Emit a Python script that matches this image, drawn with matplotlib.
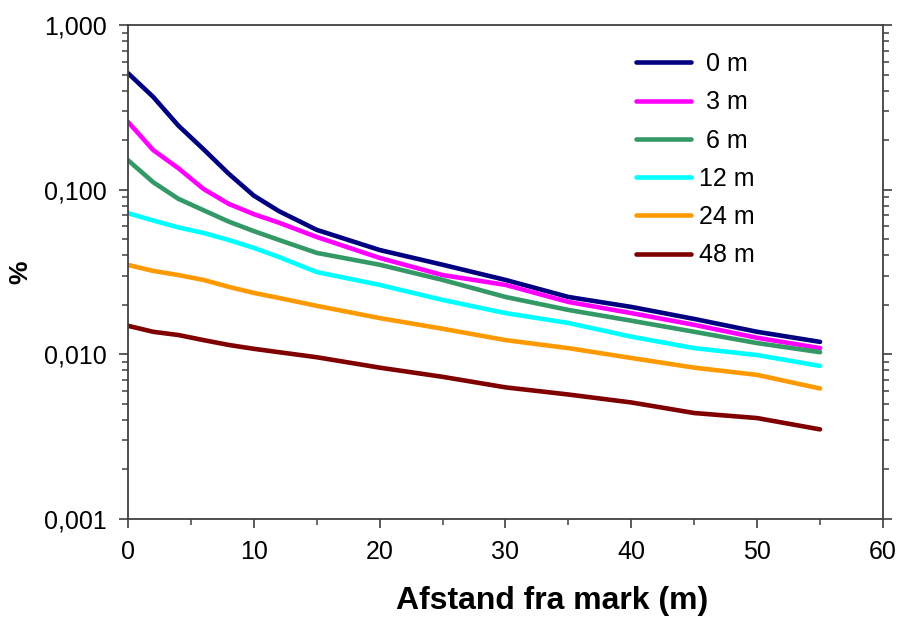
import matplotlib
matplotlib.use('Agg')
import matplotlib.pyplot as plt
from matplotlib.ticker import MultipleLocator, FuncFormatter, LogLocator, NullFormatter

plt.rcParams['font.family'] = ['Liberation Sans', 'DejaVu Sans']

# data ------------------------------------------
afstand = [0, 2, 4, 6, 8, 10, 12, 15, 20, 25, 30, 35, 40, 45, 50, 55]
h0 = [0.51, 0.366, 0.245, 0.176, 0.125, 0.092, 0.074, 0.057, 0.043, 0.035, 0.0283, 0.0223, 0.0194, 0.0164, 0.0137, 0.0119]
h3 = [0.258, 0.174, 0.135, 0.101, 0.082, 0.071, 0.063, 0.0516, 0.0385, 0.0303, 0.0264, 0.0208, 0.0178, 0.0151, 0.0126, 0.0109]
h6 = [0.151, 0.111, 0.088, 0.075, 0.064, 0.056, 0.0495, 0.0413, 0.035, 0.0283, 0.0223, 0.0186, 0.0160, 0.0137, 0.0117, 0.0103]
h12 = [0.072, 0.065, 0.059, 0.0546, 0.0495, 0.0443, 0.039, 0.0316, 0.0264, 0.0214, 0.0178, 0.0155, 0.0128, 0.0109, 0.0099, 0.0085]
h24 = [0.0349, 0.0321, 0.0303, 0.0283, 0.0257, 0.0236, 0.0220, 0.0197, 0.0166, 0.0143, 0.0122, 0.0109, 0.0095, 0.0083, 0.0075, 0.0062]
h48 = [0.0149, 0.0137, 0.0131, 0.0122, 0.0114, 0.0108, 0.0103, 0.0096, 0.0083, 0.0073, 0.0063, 0.0057, 0.0051, 0.0044, 0.0041, 0.0035]
series = [h0, h3, h6, h12, h24, h48]
labels = [' 0 m', ' 3 m', ' 6 m', '12 m', '24 m', '48 m']
colors = ['#000080', '#FF00FF', '#339966', '#00FFFF', '#FF9900', '#800000']

fig = plt.figure(figsize=(9.02, 6.19), dpi=100)
ax = fig.add_axes([0.1419, 0.1616, 0.837, 0.798])

for y, lab, c in zip(series, labels, colors):
    ax.plot(afstand, y, color=c, lw=3.3, label=lab, solid_capstyle='round')

ax.set_yscale('log')
ax.set_ylim(0.001, 1.0)
ax.set_xlim(0, 60)
ax.xaxis.set_major_locator(MultipleLocator(10))
ax.xaxis.set_minor_locator(MultipleLocator(5))
ax.yaxis.set_major_locator(LogLocator(base=10))
ax.yaxis.set_minor_locator(LogLocator(base=10, subs=range(2, 10)))
ax.yaxis.set_minor_formatter(NullFormatter())
ax.yaxis.set_major_formatter(FuncFormatter(lambda v, p: ('%.3f' % v).replace('.', ',')))

spine_col = '#404040'
for s in ax.spines.values():
    s.set_color(spine_col)
    s.set_linewidth(1.3)

ax.tick_params(which='major', direction='out', length=6.5, width=1.2, color=spine_col,
               labelsize=18, pad=9, right=True, top=False)
ax.tick_params(which='minor', direction='out', length=4, width=1.1, color=spine_col,
               right=True, top=False)

ax.set_xlabel('Afstand fra mark (m)', fontsize=23, fontweight='bold')
ax.xaxis.set_label_coords(0.562, -0.135)
ax.set_ylabel('%', fontsize=19, fontweight='bold', labelpad=8)

ax.legend(loc='upper left', bbox_to_anchor=(0.673, 0.945), frameon=False, fontsize=18,
          handlelength=2.2, handletextpad=0.3, labelspacing=0.57, borderpad=0, borderaxespad=0)

plt.savefig('out.png', dpi=100)
